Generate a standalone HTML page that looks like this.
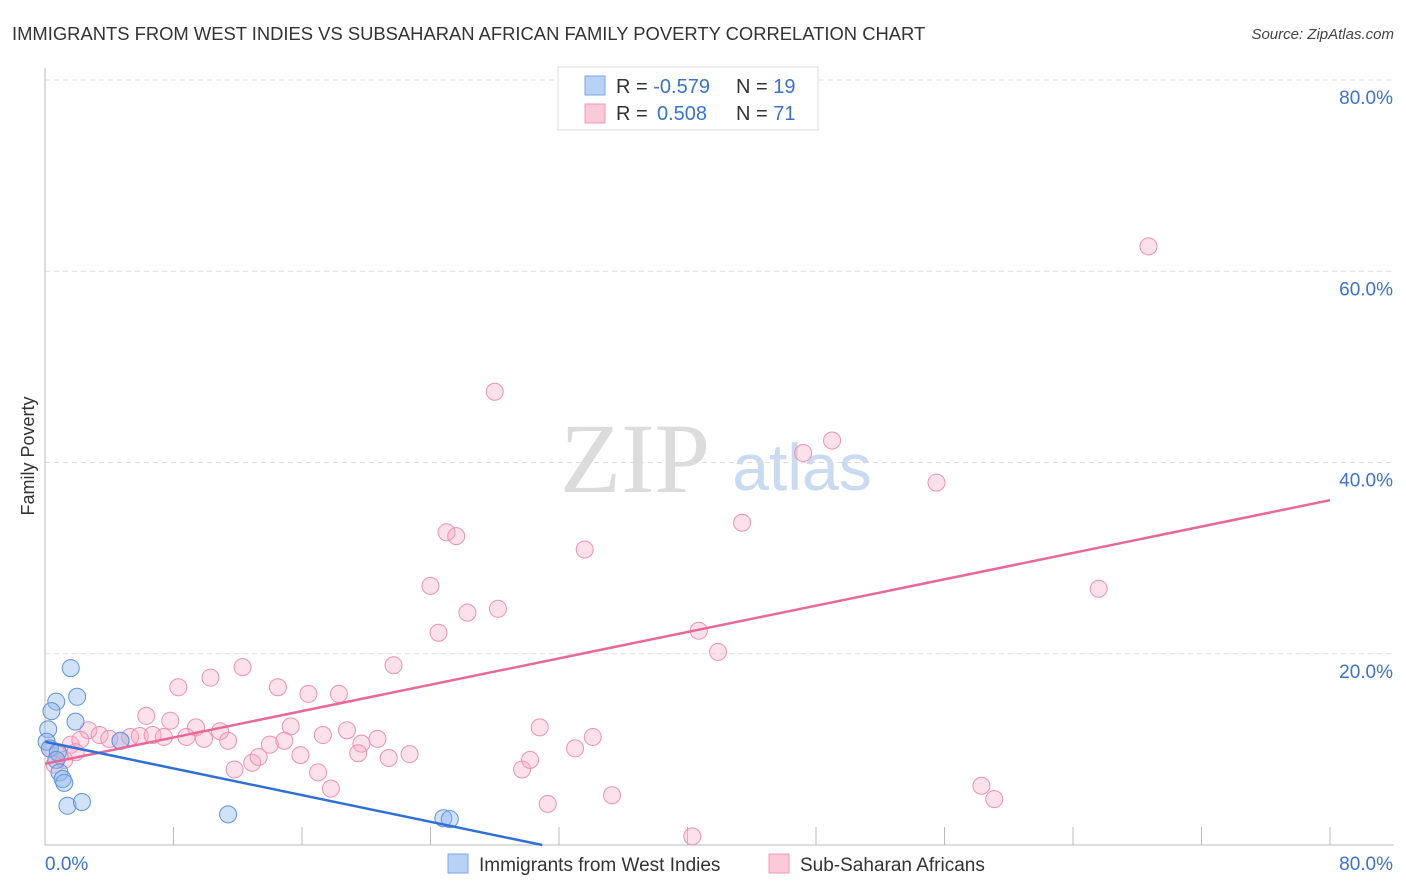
<!DOCTYPE html>
<html><head><meta charset="utf-8"><style>
body{margin:0;background:#fff;font-family:"Liberation Sans",sans-serif;}
#wrap{position:relative;width:1406px;height:892px;overflow:hidden;}
</style></head><body>
<div id="wrap">
<svg id="chart" width="1406" height="892" font-family="Liberation Sans, sans-serif">
  <text x="12" y="40" font-size="18.4" fill="#333">IMMIGRANTS FROM WEST INDIES VS SUBSAHARAN AFRICAN FAMILY POVERTY CORRELATION CHART</text>
  <text x="1394" y="39" font-size="15" fill="#444" font-style="italic" text-anchor="end">Source: ZipAtlas.com</text>
  <text x="34" y="456" font-size="18" fill="#333" text-anchor="middle" transform="rotate(-90 34 456)">Family Poverty</text>
  <text x="635" y="492" font-size="100" fill="#dcdcdc" style="font-family:'Liberation Serif',serif" text-anchor="middle">ZIP</text>
  <text x="802" y="490" font-size="66" fill="#c9daf1" text-anchor="middle">atlas</text>
  <g id="grid"></g>
  <g id="pts"></g>
  <g id="lines"></g>
  <g>
    <rect x="558" y="67" width="260" height="63" fill="#fff" stroke="#ddd"/>
    <rect x="585" y="76" width="20" height="19" fill="#b8d2f5" stroke="#7aa6e0"/>
    <rect x="585" y="104" width="20" height="19" fill="#fbc9d7" stroke="#ef9ab4"/>
    <text x="616" y="93" font-size="20" fill="#333">R = <tspan fill="#3b73cc">-0.579</tspan></text>
    <text x="736" y="93" font-size="20" fill="#333">N = <tspan fill="#3b73cc">19</tspan></text>
    <text x="616" y="120" font-size="20" fill="#333">R = <tspan fill="#3b73cc" x="657">0.508</tspan></text>
    <text x="736" y="120" font-size="20" fill="#333">N = <tspan fill="#3b73cc">71</tspan></text>
  </g>
  <g>
    <rect x="448" y="854" width="20" height="19" fill="#b8d2f5" stroke="#7aa6e0"/>
    <text x="479" y="871" font-size="19" fill="#333">Immigrants from West Indies</text>
    <rect x="769" y="854" width="20" height="19" fill="#fbc9d7" stroke="#ef9ab4"/>
    <text x="800" y="871" font-size="19" fill="#333">Sub-Saharan Africans</text>
  </g>
</svg>
</div>
<script>
const yTicks=[20,40,60,80];
const yTickLabels=["20.0%","40.0%","60.0%","80.0%"];
const xTicks=[0,8,16,24,32,40,48,56,64,72,80];
const xEndLabels=["0.0%","80.0%"];
const blueX=[1.6,0.7,2.0,0.4,0.2,1.9,0.1,0.3,0.8,0.7,0.9,1.1,1.2,1.4,2.3,11.4,4.7,24.8,25.2];
const blueY=[18.5,15.0,15.5,14.0,12.1,12.9,10.8,10.1,9.7,8.9,7.6,6.9,6.5,4.1,4.5,3.2,10.9,2.8,2.7];
const pinkX=[68.7,28.0,49.0,47.2,55.5,43.4,25.0,25.6,33.6,24.0,26.3,28.2,65.6,24.5,40.7,41.9,21.7,12.3,8.3,10.3,14.5,16.4,18.3,6.3,7.8,9.4,10.9,15.3,18.8,30.8,17.3,34.1,20.7,19.7,33.0,2.7,3.4,4.0,4.7,5.3,5.9,6.7,7.4,8.8,9.9,11.4,14.0,14.9,15.9,19.5,21.4,22.7,12.9,13.3,11.8,17.0,17.8,29.7,30.2,31.3,35.3,40.3,58.3,59.1,0.9,1.6,2.2,0.6,1.2,0.3,1.9];
const pinkY=[62.6,47.4,42.3,41.0,37.9,33.7,32.7,32.3,30.9,27.1,24.3,24.7,26.8,22.2,22.4,20.2,18.8,18.6,16.5,17.5,16.5,15.8,15.8,13.5,13.0,12.3,11.9,12.4,12.0,12.3,11.5,11.3,11.1,10.6,10.1,12.0,11.5,11.1,10.9,11.3,11.4,11.5,11.3,11.3,11.1,10.9,10.5,10.9,9.4,9.6,9.1,9.5,8.6,9.2,7.9,7.6,5.9,7.9,8.9,4.3,5.2,0.9,6.2,4.8,9.4,10.5,11.0,8.4,8.9,10.1,9.7];

const NS="http://www.w3.org/2000/svg";
const X0=45,X1=1330,Y0=845,Y80=80;
const sx=v=>X0+(v/80)*(X1-X0);
const sy=v=>Y0-(v/80)*(Y0-Y80);
function mk(tag,attrs,parent){const e=document.createElementNS(NS,tag);for(const k in attrs)e.setAttribute(k,attrs[k]);parent.appendChild(e);return e;}
const grid=document.getElementById('grid');
yTicks.forEach((t,i)=>{
  const l=mk('line',{x1:X0,x2:1394,y1:sy(t),y2:sy(t),stroke:'#ddd','stroke-dasharray':'5,4'},grid);
  
  
  const tx=mk('text',{x:1393,y:sy(t)+24,'font-size':19,fill:'#3b73cc','text-anchor':'end'},grid);
  tx.textContent=yTickLabels[i];
  
  
});
const ya=mk('line',{x1:X0,x2:X0,y1:68,y2:Y0,stroke:'#bbb'},grid);


const xa=mk('line',{x1:X0,x2:1394,y1:Y0,y2:Y0,stroke:'#bbb'},grid);


xTicks.forEach(t=>{
  const l=mk('line',{x1:sx(t),x2:sx(t),y1:827,y2:Y0,stroke:'#bbb'},grid);
  
  
});
const xl0=mk('text',{x:45,y:870,'font-size':19,fill:'#3b73cc'},grid);xl0.textContent=xEndLabels[0];


const xl1=mk('text',{x:1393,y:870,'font-size':19,fill:'#3b73cc','text-anchor':'end'},grid);xl1.textContent=xEndLabels[1];



const pts=document.getElementById('pts');
pinkX.forEach((x,i)=>{
  const c=mk('circle',{cx:sx(x),cy:sy(pinkY[i]),r:8.5,fill:'rgba(246,170,195,0.35)',stroke:'#eb93b0','stroke-width':1},pts);
  
  
});
blueX.forEach((x,i)=>{
  const c=mk('circle',{cx:sx(x),cy:sy(blueY[i]),r:8.5,fill:'rgba(140,182,238,0.4)',stroke:'#5f93dc','stroke-width':1},pts);
  
  
});
function reg(xs,ys){const n=xs.length;let mx=0,my=0;for(let i=0;i<n;i++){mx+=xs[i];my+=ys[i];}mx/=n;my/=n;let sxy=0,sxx=0;for(let i=0;i<n;i++){sxy+=(xs[i]-mx)*(ys[i]-my);sxx+=(xs[i]-mx)**2;}const b=sxy/sxx;return [my-b*mx,b];}
const lines=document.getElementById('lines');
const [pa,pb]=reg(pinkX,pinkY);
const pl=mk('line',{x1:sx(0),y1:sy(pa),x2:sx(80),y2:sy(pa+pb*80),stroke:'#e8689a','stroke-width':2.5},lines);


const [ba,bb]=reg(blueX,blueY);
let bEnd=bb<0?Math.min(80,-ba/bb):80;
const bl=mk('line',{x1:sx(0),y1:sy(ba),x2:sx(bEnd),y2:sy(ba+bb*bEnd),stroke:'#2f6fd6','stroke-width':2.5},lines);


</script>
</body></html>
